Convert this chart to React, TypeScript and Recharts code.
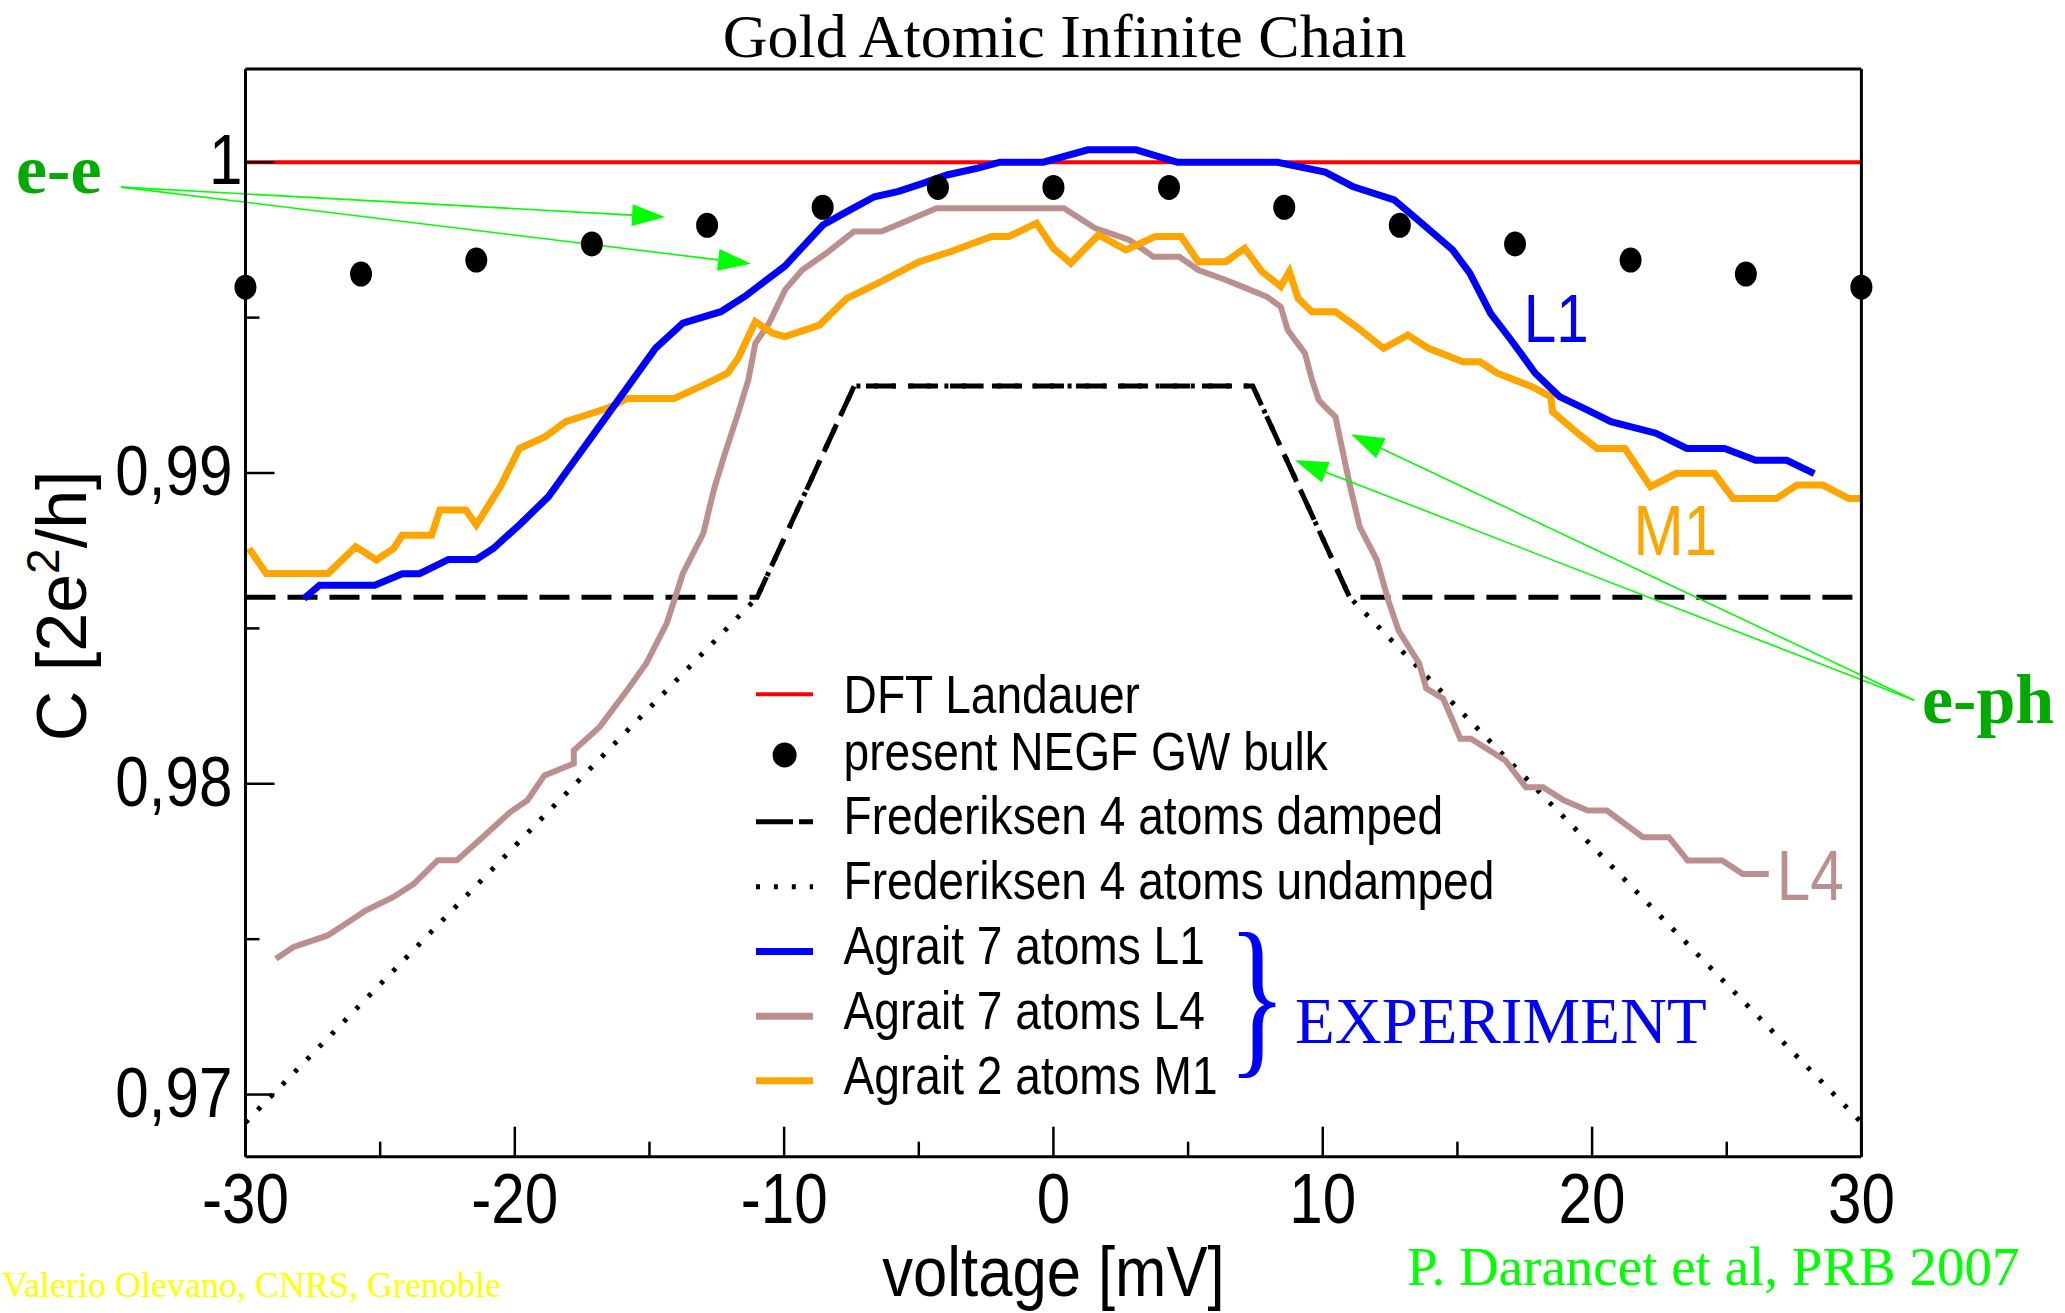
import React from 'react';
import { ComposedChart, Line, Scatter, XAxis, YAxis, ReferenceLine, ReferenceDot, Legend } from 'recharts';

// ---------- data ----------
const voltageTicks = [-30, -25, -20, -15, -10, -5, 0, 5, 10, 15, 20, 25, 30];
const conductanceTicks = [0.97, 0.975, 0.98, 0.985, 0.99, 0.995, 1.0];

const seriesNames = [
  'DFT Landauer',
  'present NEGF GW bulk',
  'Frederiksen 4 atoms damped',
  'Frederiksen 4 atoms undamped',
  'Agrait 7 atoms L1',
  'Agrait 7 atoms L4',
  'Agrait 2 atoms M1',
];

const dftLandauer: number[][] = [[-30, 1.0], [30, 1.0]];

const negfGwBulk: number[][] = [
  [-30, 0.99598], [-25.71, 0.9964], [-21.43, 0.99685], [-17.14, 0.99737], [-12.86, 0.99797],
  [-8.57, 0.99855], [-4.29, 0.99919], [0, 0.99919], [4.29, 0.99919], [8.57, 0.99855],
  [12.86, 0.99797], [17.14, 0.99737], [21.43, 0.99685], [25.71, 0.9964], [30, 0.99598],
];

const frederiksenDamped: number[][] = [
  [-30, 0.986], [-11, 0.986], [-7.4, 0.9928], [7.4, 0.9928], [11, 0.986], [30, 0.986],
];

const frederiksenUndamped: number[][] = [
  [-30, 0.9691], [-11, 0.986], [-7.4, 0.9928], [7.4, 0.9928], [11, 0.986], [30, 0.9691],
];

const agraitL1: number[][] = [
  [-27.83, 0.98596], [-27.25, 0.98639], [-25.2, 0.98639], [-24.18, 0.98676], [-23.54, 0.98676],
  [-22.46, 0.98722], [-21.43, 0.98722], [-20.8, 0.98757], [-19.77, 0.98838], [-18.75, 0.98924],
  [-17.85, 0.99032], [-16.83, 0.99154], [-15.8, 0.99278], [-14.78, 0.99401], [-13.76, 0.99482],
  [-12.35, 0.99519], [-11.46, 0.99568], [-9.97, 0.99666], [-8.56, 0.99798], [-7.67, 0.99841],
  [-6.65, 0.99889], [-5.75, 0.99906], [-4.85, 0.99932], [-3.96, 0.99959], [-2.81, 0.99981],
  [-1.98, 1.0], [-0.38, 1.0], [1.28, 1.0004], [3.07, 1.0004], [4.61, 1.0], [8.32, 1.0],
  [10.09, 0.99968], [11.11, 0.99922], [12.65, 0.99879], [13.67, 0.99804], [14.82, 0.99718],
  [15.46, 0.99643], [16.23, 0.99514], [16.99, 0.99428], [17.89, 0.99321], [18.79, 0.99246],
  [19.7, 0.99208], [20.7, 0.99165], [22.37, 0.99128], [23.52, 0.99079], [24.92, 0.99079],
  [26.07, 0.99041], [27.23, 0.99041], [28.25, 0.98998],
];

const agraitL4: number[][] = [
  [-28.87, 0.97437], [-28.23, 0.97474], [-26.95, 0.97512], [-26.18, 0.97555], [-25.54, 0.97592],
  [-24.52, 0.97635], [-23.75, 0.97678], [-22.86, 0.97754], [-22.15, 0.97754], [-21.32, 0.97818],
  [-20.17, 0.97909], [-19.53, 0.97947], [-18.9, 0.98027], [-17.81, 0.98065], [-17.81, 0.98108],
  [-16.85, 0.98183], [-15.83, 0.98301], [-15.12, 0.98387], [-14.36, 0.98516], [-14.04, 0.98601],
  [-13.76, 0.98677], [-13.0, 0.98806], [-12.61, 0.98946], [-12.23, 0.99054], [-11.71, 0.99192],
  [-11.33, 0.99299], [-11.07, 0.99417], [-10.56, 0.99482], [-9.96, 0.9959], [-9.33, 0.99653],
  [-8.44, 0.99707], [-7.41, 0.99777], [-6.39, 0.99777], [-5.37, 0.99814], [-4.34, 0.99852],
  [0.39, 0.99852], [1.54, 0.99788], [2.82, 0.9975], [3.71, 0.99696], [4.67, 0.99696],
  [5.38, 0.99653], [6.4, 0.99621], [7.17, 0.99594], [7.93, 0.99567], [8.44, 0.99535],
  [8.7, 0.9946], [9.34, 0.99385], [9.6, 0.99299], [9.85, 0.99235], [10.09, 0.99213],
  [10.47, 0.99181], [10.99, 0.98967], [11.37, 0.98827], [12.01, 0.9872], [12.43, 0.98591],
  [12.81, 0.98494], [13.58, 0.98387], [13.84, 0.98307], [14.47, 0.98274], [15.11, 0.98145],
  [15.5, 0.98145], [16.78, 0.98075], [17.54, 0.97989], [18.18, 0.97989], [18.95, 0.97947],
  [19.84, 0.97914], [20.55, 0.97914], [21.89, 0.97828], [22.85, 0.97828], [23.55, 0.97753],
  [24.83, 0.97753], [25.6, 0.9771], [26.56, 0.9771],
];

const agraitM1: number[][] = [
  [-29.87, 0.98757], [-29.23, 0.98677], [-26.93, 0.98677], [-25.91, 0.98763], [-25.14, 0.9872],
  [-24.5, 0.98757], [-24.18, 0.988], [-23.09, 0.988], [-22.78, 0.98881], [-21.82, 0.98881],
  [-21.43, 0.98833], [-20.54, 0.98956], [-19.83, 0.99079], [-18.87, 0.99117], [-18.11, 0.99165],
  [-16.57, 0.99208], [-15.81, 0.9924], [-14.08, 0.9924], [-13.12, 0.99278], [-12.1, 0.99321],
  [-11.71, 0.99369], [-11.07, 0.99487], [-10.43, 0.9945], [-9.97, 0.99439], [-8.69, 0.99476],
  [-7.67, 0.99562], [-6.65, 0.99605], [-4.98, 0.9968], [-3.83, 0.99712], [-2.3, 0.99761],
  [-1.66, 0.99761], [-0.63, 0.99804], [0.0, 0.99723], [0.64, 0.99675], [1.67, 0.99766],
  [2.69, 0.99718], [3.78, 0.99761], [4.74, 0.99761], [5.38, 0.9968], [6.4, 0.9968],
  [7.1, 0.99723], [7.74, 0.99648], [8.44, 0.996], [8.76, 0.99648], [9.08, 0.99562],
  [9.6, 0.99519], [10.47, 0.99519], [11.24, 0.99471], [12.26, 0.99401], [13.16, 0.99444],
  [13.93, 0.99401], [15.2, 0.99358], [15.84, 0.99358], [16.48, 0.99321], [17.76, 0.99278],
  [18.47, 0.99246], [18.53, 0.99197], [19.55, 0.99122], [20.19, 0.99079], [21.22, 0.99079],
  [22.17, 0.98956], [23.13, 0.98999], [24.54, 0.98999], [25.24, 0.98918], [26.84, 0.98918],
  [27.61, 0.98961], [28.57, 0.98961], [29.53, 0.98918], [30.0, 0.98918],
];

// annotation anchors in data coordinates [voltage, conductance]
const eeArrowStart = [-34.62, 0.9992];
const eeArrowTips = [[-14.42, 0.99824], [-11.23, 0.99673]];
const ephArrowStart = [31.96, 0.98269];
const ephArrowTips = [[8.97, 0.99041], [11.05, 0.99125]];

// ---------- styles ----------
const SANS = "'Liberation Sans', Arial, Helvetica, sans-serif";
const SERIF = "'Liberation Serif', 'Times New Roman', Times, serif";
const BLUE = '#0000ff';
const BROWN = '#bc8f8f';
const ORANGE = '#ffa500';
const RED = '#ff0000';
const ARROW_GREEN = '#00ff00';
const LABEL_GREEN = '#00aa00';

const toPts = (arr: number[][]) => arr.map(([x, y]) => ({ x, y }));
const axisStyle = { stroke: '#000', strokeWidth: 3 };

const isMajorX = (v: number) => Math.abs(v % 10) < 1e-9;
const isMajorY = (v: number) => Math.abs(v * 100 - Math.round(v * 100)) < 1e-6;
const fmtY = (v: number) => (Math.abs(v - 1) < 1e-9 ? '1' : v.toFixed(2).replace('.', ','));

const BottomTick = (p: any) => {
  const { x, y, payload } = p;
  const v = payload.value;
  const major = isMajorX(v);
  return (
    <g>
      <line x1={x} y1={y} x2={x} y2={y - (major ? 30 : 15)} stroke="#000" strokeWidth={2.5} />
      {major && (
        <text transform={`translate(${x},${y + 66}) scale(0.86,1)`} textAnchor="middle" fontFamily={SANS} fontSize={70} fill="#000">
          {String(v)}
        </text>
      )}
    </g>
  );
};

const TopTick = (p: any) => {
  const { x, y, payload } = p;
  const major = isMajorX(payload.value);
  return <line x1={x} y1={y} x2={x} y2={y + (major ? 30 : 15)} stroke="#000" strokeWidth={2.5} />;
};

const LeftTick = (p: any) => {
  const { x, y, payload } = p;
  const v = payload.value;
  const major = isMajorY(v);
  const label = fmtY(v);
  const dx = label === '1' ? 10 : 0;
  return (
    <g>
      <line x1={x} y1={y} x2={x + (major ? 29 : 14)} y2={y} stroke="#000" strokeWidth={2.5} />
      {major && (
        <text transform={`translate(${x - 13 + dx},${y + 22}) scale(0.86,1)`} textAnchor="end" fontFamily={SANS} fontSize={70} fill="#000">
          {label}
        </text>
      )}
    </g>
  );
};

const RightTick = (p: any) => {
  const { x, y, payload } = p;
  const major = isMajorY(payload.value);
  return <line x1={x} y1={y} x2={x - (major ? 28 : 14)} y2={y} stroke="#000" strokeWidth={2.5} />;
};

const XLabel = (p: any) => {
  const vb = (p && p.viewBox) || { x: 245.5, y: 1156.7, width: 1616, height: 1 };
  const cx = vb.x + vb.width / 2;
  const cy = vb.y + 139.5;
  return (
    <text transform={`translate(${cx},${cy}) scale(0.88,1)`} textAnchor="middle" fontFamily={SANS} fontSize={70} fill="#000">
      voltage [mV]
    </text>
  );
};

const YLabel = (p: any) => {
  const vb = (p && p.viewBox) || { x: 244.5, y: 69, width: 1, height: 1088 };
  const cx = vb.x - 158.5;
  const cy = vb.y + vb.height / 2 - 7;
  return (
    <text transform={`translate(${cx},${cy}) rotate(-90)`} textAnchor="middle" fontFamily={SANS} fontSize={70} fill="#000">
      C [2e<tspan dy={-27} fontSize={46}>2</tspan>
      <tspan dy={27}>/h]</tspan>
    </text>
  );
};

const Arrow = (p: any) => {
  const { x1, y1, x2, y2 } = p;
  if ([x1, y1, x2, y2].some((v) => typeof v !== 'number' || isNaN(v))) return <g />;
  const dx = x2 - x1;
  const dy = y2 - y1;
  const L = Math.hypot(dx, dy) || 1;
  const ux = dx / L;
  const uy = dy / L;
  const hl = 33;
  const hw = 11;
  const bx = x2 - ux * hl;
  const by = y2 - uy * hl;
  return (
    <g>
      <line x1={x1} y1={y1} x2={bx} y2={by} stroke={ARROW_GREEN} strokeWidth={1.6} />
      <polygon points={`${x2},${y2} ${bx - uy * hw},${by + ux * hw} ${bx + uy * hw},${by - ux * hw}`} fill={ARROW_GREEN} />
    </g>
  );
};

const makeTextShape = (text: string, color: string, size: number, family: string, weight: string | number, sx: number) => (p: any) => {
  const { cx, cy } = p;
  if (typeof cx !== 'number' || typeof cy !== 'number') return <g />;
  return (
    <text transform={`translate(${cx},${cy}) scale(${sx},1)`} fontFamily={family} fontSize={size} fontWeight={weight} fill={color}>
      {text}
    </text>
  );
};

const legendStyles = [
  { kind: 'line', color: RED, width: 4, dash: undefined },
  { kind: 'dot', color: '#000', width: 0, dash: undefined },
  { kind: 'line', color: '#000', width: 5, dash: '37 6' },
  { kind: 'line', color: '#000', width: 5, dash: '4 13.9' },
  { kind: 'line', color: BLUE, width: 7, dash: undefined },
  { kind: 'line', color: BROWN, width: 7, dash: undefined },
  { kind: 'line', color: ORANGE, width: 7, dash: undefined },
];
const legendSampleY = [34.3, 95, 161.7, 226.7, 291.5, 356.2, 420.7];
const legendTextBaseline = [53.3, 110, 174, 239, 304, 369, 434];

const LegendBox = () => (
  <svg width={1000} height={470} style={{ overflow: 'visible', display: 'block' }}>
    {seriesNames.map((name, i) => {
      const st = legendStyles[i];
      const cy = legendSampleY[i];
      return (
        <g key={name}>
          {st.kind === 'dot' ? (
            <ellipse cx={44.6} cy={cy} rx={12} ry={12.5} fill="#000" />
          ) : (
            <line x1={16} y1={cy} x2={73} y2={cy} stroke={st.color} strokeWidth={st.width} strokeDasharray={st.dash} />
          )}
          <text transform={`translate(103.6,${legendTextBaseline[i]}) scale(0.87,1)`} fontFamily={SANS} fontSize={53} fill="#000">
            {name}
          </text>
        </g>
      );
    })}
    <text transform="translate(487.7,394) scale(0.7,1)" fontFamily={SERIF} fontSize={175} fill={BLUE}>
      {'}'}
    </text>
    <text x={555} y={383} fontFamily={SERIF} fontSize={65} fill={BLUE}>
      EXPERIMENT
    </text>
  </svg>
);

export default function App() {
  return (
    <div style={{ position: 'absolute', left: 0, top: 0, width: 2065, height: 1313, background: '#fff', overflow: 'hidden' }}>
      <ComposedChart width={2065} height={1313} margin={{ top: 68, right: 202.6, bottom: 155.3, left: 244.5 }}>
        <XAxis
          dataKey="x"
          type="number"
          domain={[-30, 30]}
          ticks={voltageTicks}
          interval={0}
          height={1}
          tickLine={false}
          tickSize={0}
          tickMargin={0}
          axisLine={axisStyle}
          tick={(p: any) => <BottomTick {...p} />}
          label={(p: any) => <XLabel {...p} />}
        />
        <XAxis
          xAxisId="top"
          orientation="top"
          dataKey="x"
          type="number"
          domain={[-30, 30]}
          ticks={voltageTicks}
          interval={0}
          height={1}
          tickLine={false}
          tickSize={0}
          tickMargin={0}
          axisLine={axisStyle}
          tick={(p: any) => <TopTick {...p} />}
        />
        <YAxis
          dataKey="y"
          type="number"
          domain={[0.968, 1.003]}
          ticks={conductanceTicks}
          interval={0}
          width={1}
          tickLine={false}
          tickSize={0}
          tickMargin={0}
          axisLine={axisStyle}
          tick={(p: any) => <LeftTick {...p} />}
          label={(p: any) => <YLabel {...p} />}
        />
        <YAxis
          yAxisId="right"
          orientation="right"
          dataKey="y"
          type="number"
          domain={[0.968, 1.003]}
          ticks={conductanceTicks}
          interval={0}
          width={1}
          tickLine={false}
          tickSize={0}
          tickMargin={0}
          axisLine={axisStyle}
          tick={(p: any) => <RightTick {...p} />}
        />

        <Line data={toPts(dftLandauer)} dataKey="y" name={seriesNames[0]} type="linear" stroke={RED} strokeWidth={4} dot={false} isAnimationActive={false} />
        <Line data={toPts(frederiksenDamped)} dataKey="y" name={seriesNames[2]} type="linear" stroke="#000" strokeWidth={5} strokeDasharray="30 12" dot={false} isAnimationActive={false} />
        <Line data={toPts(frederiksenUndamped)} dataKey="y" name={seriesNames[3]} type="linear" stroke="#000" strokeWidth={5} strokeDasharray="4 13.6" dot={false} isAnimationActive={false} />
        <Scatter
          data={toPts(negfGwBulk)}
          dataKey="y"
          name={seriesNames[1]}
          isAnimationActive={false}
          shape={(p: any) => <ellipse cx={p.cx} cy={p.cy} rx={11} ry={12.5} fill="#000" />}
        />
        <Line data={toPts(agraitL4)} dataKey="y" name={seriesNames[5]} type="linear" stroke={BROWN} strokeWidth={6} dot={false} isAnimationActive={false} />
        <Line data={toPts(agraitM1)} dataKey="y" name={seriesNames[6]} type="linear" stroke={ORANGE} strokeWidth={7} dot={false} isAnimationActive={false} />
        <Line data={toPts(agraitL1)} dataKey="y" name={seriesNames[4]} type="linear" stroke={BLUE} strokeWidth={7} dot={false} isAnimationActive={false} />

        {eeArrowTips.map((t, i) => (
          <ReferenceLine
            key={'ee' + i}
            ifOverflow="visible"
            segment={[{ x: eeArrowStart[0], y: eeArrowStart[1] }, { x: t[0], y: t[1] }]}
            shape={(p: any) => <Arrow {...p} />}
          />
        ))}
        {ephArrowTips.map((t, i) => (
          <ReferenceLine
            key={'eph' + i}
            ifOverflow="visible"
            segment={[{ x: ephArrowStart[0], y: ephArrowStart[1] }, { x: t[0], y: t[1] }]}
            shape={(p: any) => <Arrow {...p} />}
          />
        ))}

        <ReferenceDot x={17.46} y={0.99422} r={0} ifOverflow="visible" shape={makeTextShape('L1', BLUE, 68, SANS, 'normal', 0.86)} />
        <ReferenceDot x={21.54} y={0.98736} r={0} ifOverflow="visible" shape={makeTextShape('M1', ORANGE, 70, SANS, 'normal', 0.86)} />
        <ReferenceDot x={26.86} y={0.97625} r={0} ifOverflow="visible" shape={makeTextShape('L4', BROWN, 70, SANS, 'normal', 0.86)} />
        <ReferenceDot x={-38.52} y={0.99901} r={0} ifOverflow="visible" shape={makeTextShape('e-e', LABEL_GREEN, 70, SERIF, 'bold', 1)} />
        <ReferenceDot x={32.25} y={0.98195} r={0} ifOverflow="visible" shape={makeTextShape('e-ph', LABEL_GREEN, 70, SERIF, 'bold', 1)} />

        <Legend
          layout="vertical"
          align="center"
          verticalAlign="middle"
          wrapperStyle={{ left: 740, top: 660, width: 1000, height: 470 }}
          content={() => <LegendBox />}
        />
      </ComposedChart>
      <svg width={2065} height={1313} style={{ position: 'absolute', left: 0, top: 0, pointerEvents: 'none' }}>
        <text x={1064.6} y={57} textAnchor="middle" fontFamily={SERIF} fontSize={62} fill="#000">
          Gold Atomic Infinite Chain
        </text>
        <text x={2} y={1297} fontFamily={SERIF} fontSize={36} fill="#ffff00">
          Valerio Olevano, CNRS, Grenoble
        </text>
        <text x={1407} y={1285} fontFamily={SERIF} fontSize={55} fill="#00ff00">
          P. Darancet et al, PRB 2007
        </text>
      </svg>
    </div>
  );
}
